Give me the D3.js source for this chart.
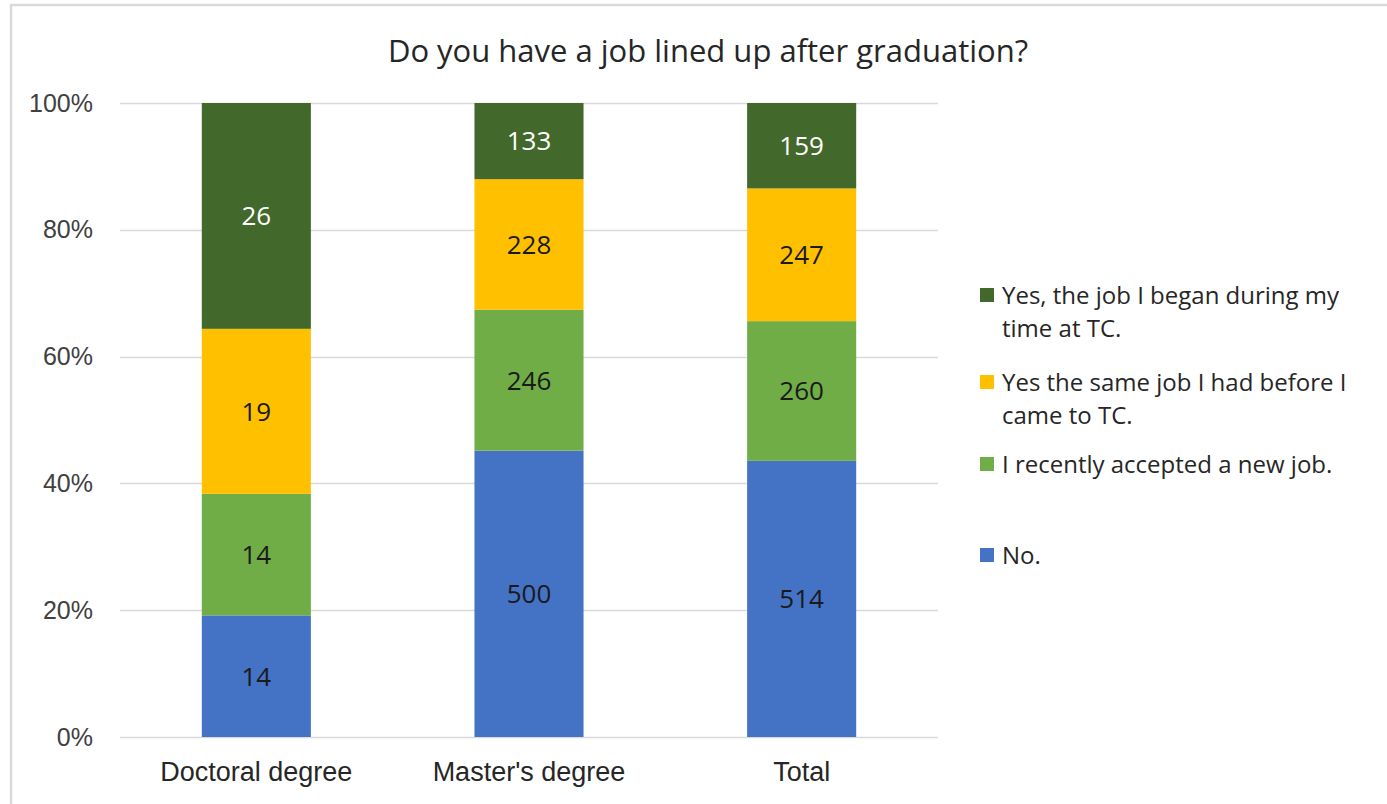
<!DOCTYPE html>
<html>
<head>
<meta charset="utf-8">
<script src="https://cdn.jsdelivr.net/npm/d3@7"></script>
<style>
  html, body { margin: 0; padding: 0; background: #fff; }
  svg { display: block; font-family: "Open Sans", "Noto Sans", sans-serif; }
</style>
</head>
<body>
<div id="chart"></div>
<script>
// chart data
var categories = ["Doctoral degree", "Master's degree", "Total"];
var seriesNames = [
    "No.",
    "I recently accepted a new job.",
    "Yes the same job I had before I came to TC.",
    "Yes, the job I began during my time at TC."
];
var noValues = [14, 500, 514];
var newJobValues = [14, 246, 260];
var sameJobValues = [19, 228, 247];
var beganJobValues = [26, 133, 159];
var yTicks = [0, 0.2, 0.4, 0.6, 0.8, 1];

// legend lines, top entry first (as drawn)
var legendLines = [
    ["Yes, the job I began during my", "time at TC."],
    ["Yes the same job I had before I", "came to TC."],
    ["I recently accepted a new job."],
    ["No."]
];

var colors = ["#4472C4", "#70AD47", "#FFC000", "#43682B"];
var labelColors = ["#1a1a1a", "#1a1a1a", "#1a1a1a", "#ffffff"];

var W = 1387, H = 804,
    margin = {top: 103, left: 120, right: 449, bottom: 67};

var svg = d3.select("#chart").append("svg")
    .attr("width", W)
    .attr("height", H);

// chart border (left / top edge of the frame)
svg.append("rect")
    .attr("x", 11).attr("y", 5)
    .attr("width", W + 20).attr("height", H + 20)
    .attr("fill", "none")
    .attr("stroke", "#d9d9d9")
    .attr("stroke-width", 2.5);

var plotW = W - margin.left - margin.right,
    plotH = H - margin.top - margin.bottom;

var g = svg.append("g")
    .attr("transform", "translate(" + margin.left + "," + margin.top + ")");

var x = d3.scaleBand()
    .domain(categories)
    .range([0, plotW])
    .paddingInner(0.6)
    .paddingOuter(0.3);

var y = d3.scaleLinear()
    .domain([0, 1])
    .range([plotH, 0]);

// rows -> stacked, normalized
var rows = categories.map(function (c, i) {
    return {
        cat: c,
        s0: noValues[i],
        s1: newJobValues[i],
        s2: sameJobValues[i],
        s3: beganJobValues[i]
    };
});

var stack = d3.stack()
    .keys(["s0", "s1", "s2", "s3"])
    .offset(d3.stackOffsetExpand);
var stacked = stack(rows);

// gridlines
g.append("g")
    .selectAll("line")
    .data(yTicks)
    .join("line")
    .attr("x1", 0).attr("x2", plotW)
    .attr("y1", function (d) { return Math.round(y(d)) + 0.5; })
    .attr("y2", function (d) { return Math.round(y(d)) + 0.5; })
    .attr("stroke", "#d9d9d9")
    .attr("stroke-width", 1.5);

// y axis labels
var yAxis = d3.axisLeft(y)
    .tickValues(yTicks)
    .tickFormat(d3.format(".0%"))
    .tickSize(0)
    .tickPadding(27);
var ya = g.append("g").call(yAxis);
ya.select(".domain").remove();
ya.selectAll("text")
    .attr("fill", "#404040")
    .style("font-family", "inherit")
    .style("font-size", "25px");

// x axis labels
var xAxis = d3.axisBottom(x).tickSize(0).tickPadding(25);
var xa = g.append("g")
    .attr("transform", "translate(0," + plotH + ")")
    .call(xAxis);
xa.select(".domain").remove();
xa.selectAll("text")
    .attr("fill", "#262626")
    .style("font-family", "inherit")
    .style("font-size", "27px");

// bars
var layers = g.append("g")
    .selectAll("g")
    .data(stacked)
    .join("g")
    .attr("fill", function (d, i) { return colors[i]; });

layers.selectAll("rect")
    .data(function (d) { return d; })
    .join("rect")
    .attr("x", function (d) { return x(d.data.cat); })
    .attr("width", x.bandwidth())
    .attr("y", function (d) { return y(d[1]); })
    .attr("height", function (d) { return y(d[0]) - y(d[1]); });

// data labels
var labels = g.append("g");
stacked.forEach(function (layer, i) {
    labels.selectAll(null)
        .data(layer)
        .join("text")
        .attr("x", function (d) { return x(d.data.cat) + x.bandwidth() / 2; })
        .attr("y", function (d) { return (y(d[0]) + y(d[1])) / 2; })
        .attr("dy", "0.36em")
        .attr("text-anchor", "middle")
        .attr("fill", labelColors[i])
        .style("font-size", "26px")
        .text(function (d) { return d.data[layer.key]; });
});

// title
svg.append("text")
    .attr("x", 708)
    .attr("y", 62)
    .attr("text-anchor", "middle")
    .attr("fill", "#262626")
    .style("font-size", "31px")
    .text("Do you have a job lined up after graduation?");

// legend
var legendTop = [295, 382, 464, 555],
    legendColors = colors.slice().reverse();
var legend = svg.append("g");
legendLines.forEach(function (lines, i) {
    var item = legend.append("g")
        .attr("transform", "translate(980," + legendTop[i] + ")");
    item.append("rect")
        .attr("x", 0).attr("y", -7)
        .attr("width", 14).attr("height", 14)
        .attr("fill", legendColors[i]);
    item.selectAll("text")
        .data(lines)
        .join("text")
        .attr("x", 22)
        .attr("y", function (d, j) { return j * 33; })
        .attr("dy", "0.36em")
        .attr("fill", "#262626")
        .style("font-size", "24px")
        .text(function (d) { return d; });
});
</script>
</body>
</html>
